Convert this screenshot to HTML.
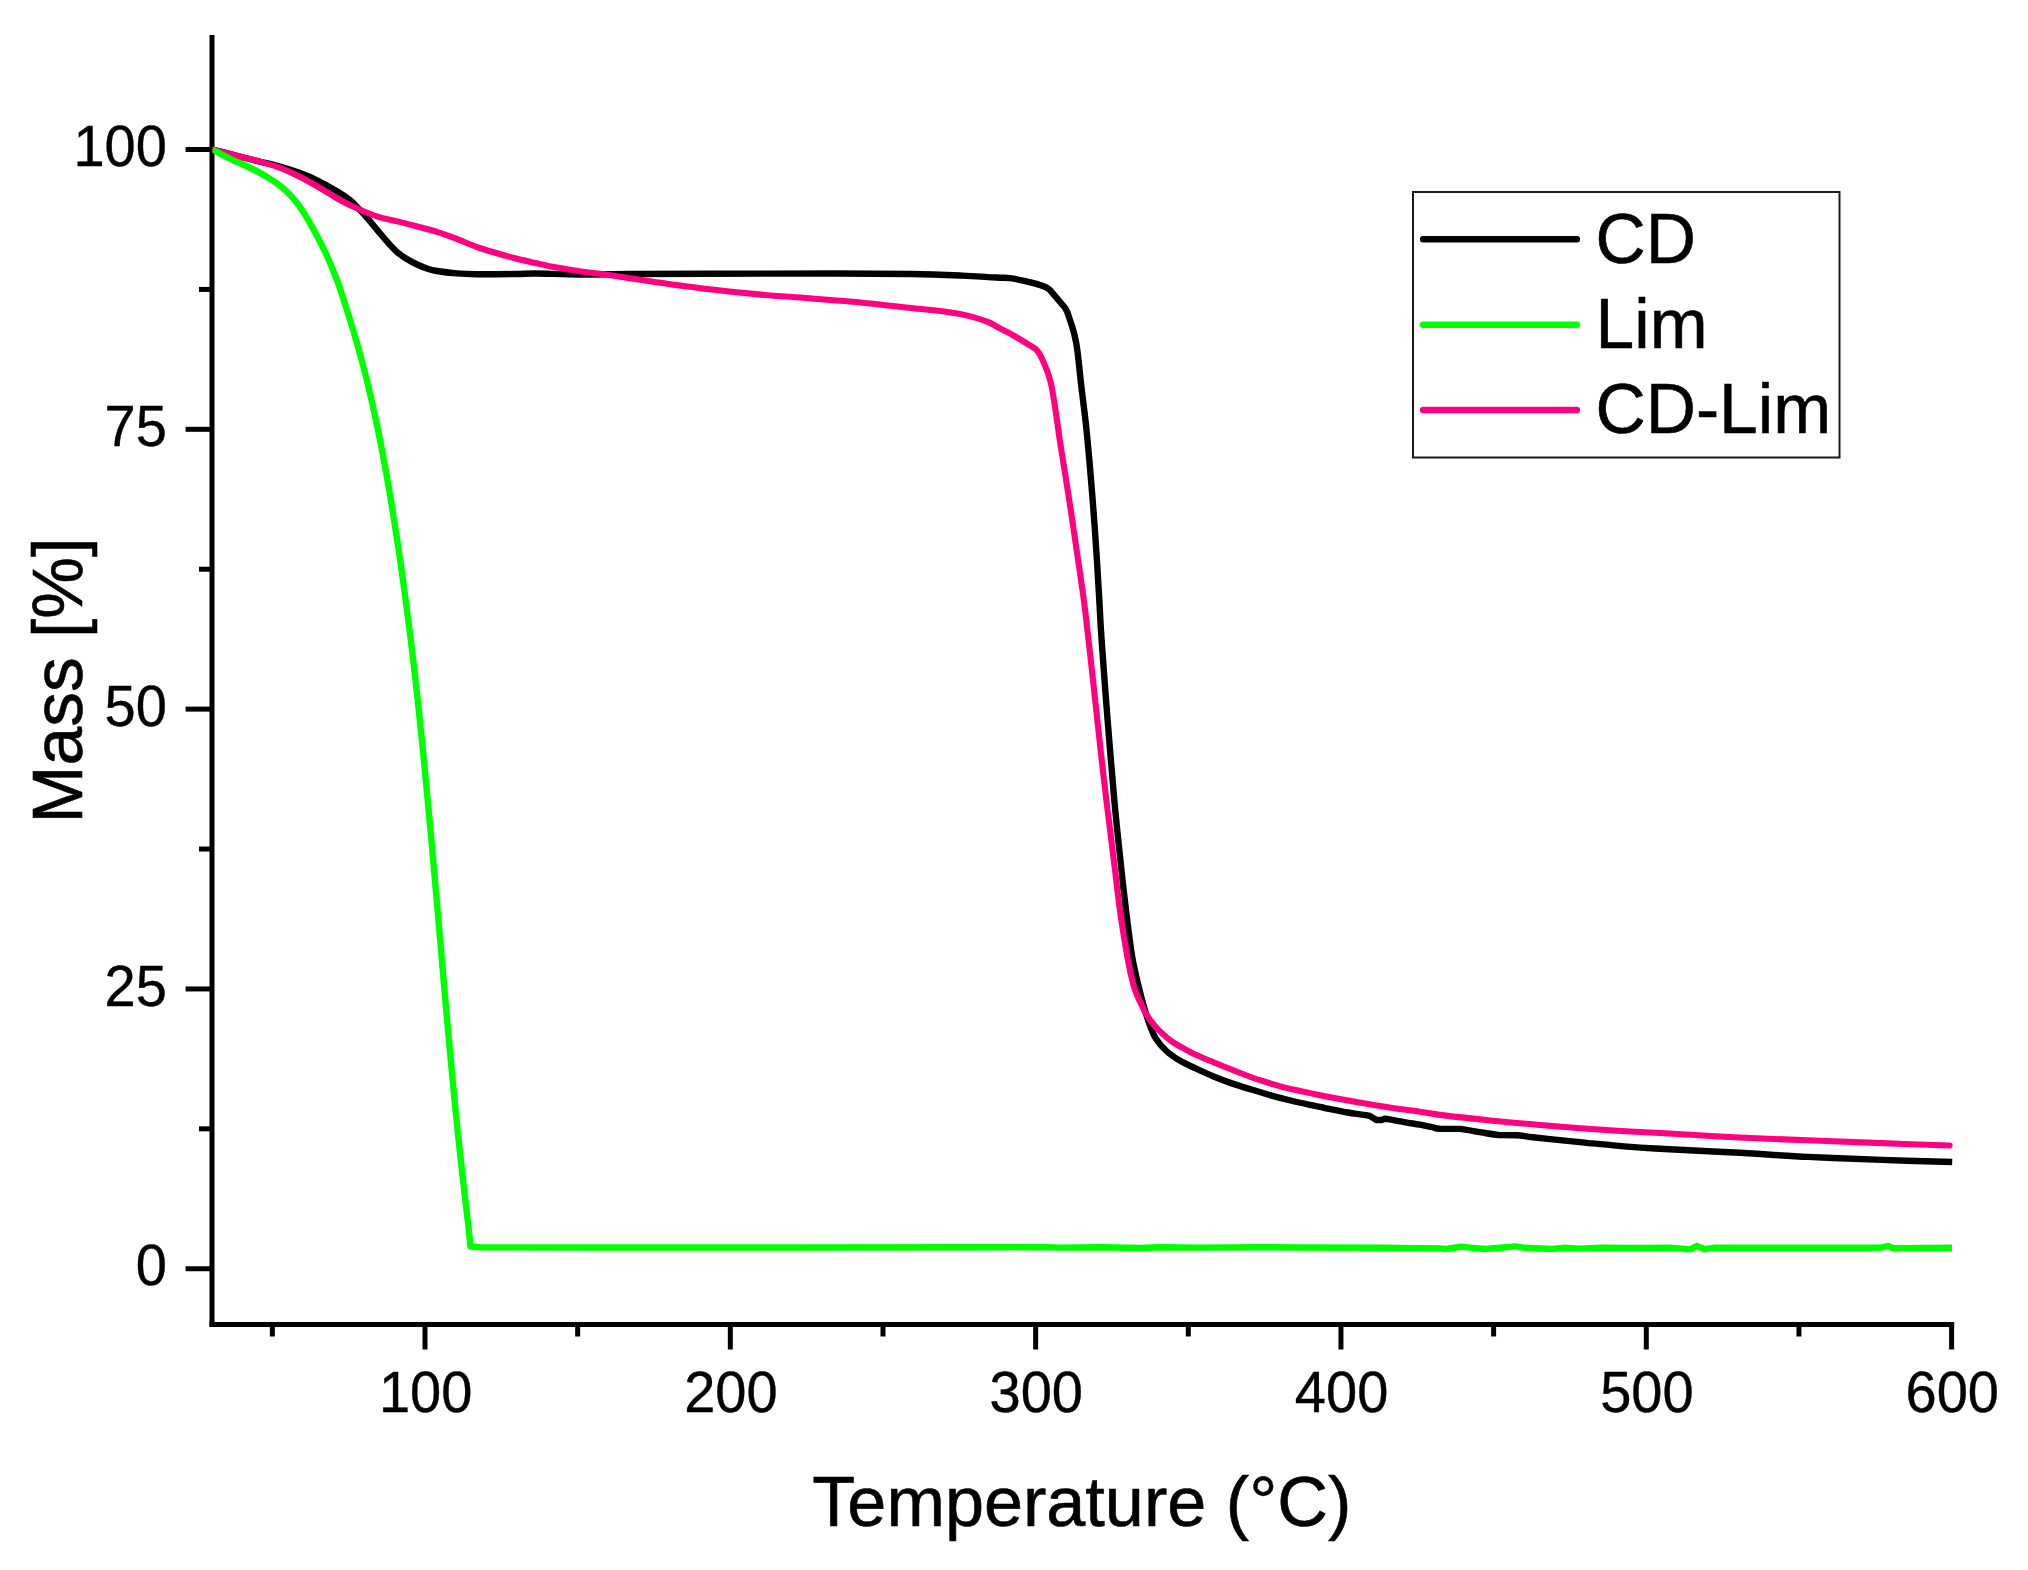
<!DOCTYPE html>
<html lang="en"><head><meta charset="utf-8"><title>TGA: Mass vs Temperature</title>
<style>
html,body{margin:0;padding:0;background:#fff;}
body{width:2028px;height:1570px;overflow:hidden;font-family:"Liberation Sans",sans-serif;}
svg{display:block;}
</style></head><body>
<svg width="2028" height="1570" viewBox="0 0 2028 1570">
<rect width="2028" height="1570" fill="#fff"/>
<g stroke="#000" stroke-width="5" fill="none" stroke-linecap="butt">
<path d="M212.0,35 V1327.1"/>
<path d="M209.5,1324.6 H1954.2"/>
<path d="M185.6,149.50 H212.0"/>
<path d="M185.6,429.31 H212.0"/>
<path d="M185.6,709.12 H212.0"/>
<path d="M185.6,988.94 H212.0"/>
<path d="M185.6,1268.75 H212.0"/>
<path d="M199,289.41 H212.0"/>
<path d="M199,569.22 H212.0"/>
<path d="M199,849.03 H212.0"/>
<path d="M199,1128.84 H212.0"/>
<path d="M425.00,1324.6 V1349.5"/>
<path d="M730.32,1324.6 V1349.5"/>
<path d="M1035.64,1324.6 V1349.5"/>
<path d="M1340.96,1324.6 V1349.5"/>
<path d="M1646.28,1324.6 V1349.5"/>
<path d="M1951.60,1324.6 V1349.5"/>
<path d="M272.34,1324.6 V1336.5"/>
<path d="M577.66,1324.6 V1336.5"/>
<path d="M882.98,1324.6 V1336.5"/>
<path d="M1188.30,1324.6 V1336.5"/>
<path d="M1493.62,1324.6 V1336.5"/>
<path d="M1798.94,1324.6 V1336.5"/>
</g>
<defs><clipPath id="pc"><rect x="212.4" y="30" width="1760" height="1300"/></clipPath></defs><g clip-path="url(#pc)">
<path d="M212.50,149.50 C217.00,150.67 231.72,154.50 239.50,156.50 C247.28,158.50 253.22,160.02 259.20,161.50 C265.18,162.98 268.82,163.55 275.40,165.40 C281.98,167.25 291.52,170.00 298.70,172.60 C305.88,175.20 311.92,177.75 318.50,181.00 C325.08,184.25 332.87,188.83 338.20,192.10 C343.53,195.37 347.22,197.97 350.50,200.60 C353.78,203.23 355.02,204.88 357.90,207.90 C360.78,210.92 364.50,214.92 367.80,218.70 C371.10,222.48 374.40,226.68 377.70,230.60 C381.00,234.52 384.32,238.58 387.60,242.20 C390.88,245.82 394.12,249.47 397.40,252.30 C400.68,255.13 404.00,257.17 407.30,259.20 C410.60,261.23 413.92,262.95 417.20,264.50 C420.48,266.05 423.72,267.42 427.00,268.50 C430.28,269.58 431.95,270.18 436.90,271.00 C441.85,271.82 450.12,272.87 456.70,273.40 C463.28,273.93 466.53,274.10 476.40,274.20 C486.27,274.30 506.03,274.12 515.90,274.00 C525.77,273.88 524.92,273.42 535.60,273.50 C546.28,273.58 564.10,274.42 580.00,274.50 C595.90,274.58 609.77,274.12 631.00,274.00 C652.23,273.88 673.43,273.88 707.40,273.80 C741.37,273.72 800.82,273.47 834.80,273.50 C868.78,273.53 890.07,273.65 911.30,274.00 C932.53,274.35 949.47,275.08 962.20,275.60 C974.93,276.12 981.40,276.75 987.70,277.10 C994.00,277.45 996.28,277.52 1000.00,277.70 C1003.72,277.88 1005.78,277.62 1010.00,278.20 C1014.22,278.78 1020.20,280.02 1025.30,281.20 C1030.40,282.38 1036.52,283.85 1040.60,285.30 C1044.68,286.75 1045.73,286.15 1049.80,289.90 L1065.00,307.80 C1068.42,312.98 1068.77,316.67 1070.30,321.00 C1071.83,325.33 1073.03,328.97 1074.20,333.80 C1075.37,338.63 1076.12,341.30 1077.30,350.00 C1078.48,358.70 1079.85,373.48 1081.30,386.00 C1082.75,398.52 1084.57,411.70 1086.00,425.10 C1087.43,438.50 1088.63,451.88 1089.90,466.40 C1091.17,480.92 1092.45,496.92 1093.60,512.20 C1094.75,527.48 1095.85,543.47 1096.80,558.10 C1097.75,572.73 1098.50,586.35 1099.30,600.00 C1100.10,613.65 1100.22,620.00 1101.60,640.00 C1102.98,660.00 1105.48,693.33 1107.60,720.00 C1109.72,746.67 1112.43,779.17 1114.30,800.00 C1116.17,820.83 1117.43,831.67 1118.80,845.00 C1120.17,858.33 1121.40,870.00 1122.50,880.00 C1123.60,890.00 1124.37,896.33 1125.40,905.00 C1126.43,913.67 1127.53,923.17 1128.70,932.00 C1129.87,940.83 1130.95,949.78 1132.40,958.00 C1133.85,966.22 1135.60,973.60 1137.40,981.30 C1139.20,989.00 1141.23,997.20 1143.20,1004.20 C1145.17,1011.20 1147.08,1017.57 1149.20,1023.30 C1151.32,1029.03 1153.03,1033.98 1155.90,1038.60 C1158.77,1043.22 1162.42,1047.33 1166.40,1051.00 C1170.38,1054.67 1175.02,1057.73 1179.80,1060.60 C1184.58,1063.47 1189.37,1065.50 1195.10,1068.20 C1200.83,1070.90 1207.83,1074.18 1214.20,1076.80 C1220.57,1079.42 1226.93,1081.73 1233.30,1083.90 C1239.67,1086.07 1246.03,1087.85 1252.40,1089.80 C1258.77,1091.75 1265.13,1093.82 1271.50,1095.60 C1277.87,1097.38 1284.22,1098.97 1290.60,1100.50 C1296.98,1102.03 1304.90,1103.75 1309.80,1104.80 C1314.70,1105.85 1316.82,1106.13 1320.00,1106.80 C1323.18,1107.47 1324.23,1107.85 1328.90,1108.80 C1333.57,1109.75 1342.82,1111.57 1348.00,1112.50 C1353.18,1113.43 1356.37,1113.83 1360.00,1114.40 C1363.63,1114.97 1367.08,1114.97 1369.80,1115.90 L1376.30,1120.00 L1381.70,1120.00 L1384.60,1118.80 C1386.77,1118.85 1390.97,1119.67 1394.70,1120.30 C1398.43,1120.93 1402.78,1121.87 1407.00,1122.60 C1411.22,1123.33 1415.82,1123.93 1420.00,1124.70 C1424.18,1125.47 1428.82,1126.53 1432.10,1127.20 C1435.38,1127.87 1435.15,1128.42 1439.70,1128.70 L1459.40,1128.90 C1466.28,1129.52 1474.42,1131.38 1481.00,1132.40 C1487.58,1133.42 1492.90,1134.53 1498.90,1135.00 L1517.00,1135.20 C1522.63,1135.58 1525.15,1136.43 1532.70,1137.30 C1540.25,1138.17 1554.42,1139.60 1562.30,1140.40 C1570.18,1141.20 1575.07,1141.60 1580.00,1142.10 C1584.93,1142.60 1584.98,1142.73 1591.90,1143.40 C1598.82,1144.07 1610.98,1145.25 1621.50,1146.10 C1632.02,1146.95 1636.25,1147.43 1655.00,1148.50 C1673.75,1149.57 1708.52,1151.10 1734.00,1152.50 C1759.48,1153.90 1783.25,1155.67 1807.90,1156.90 C1832.55,1158.13 1857.85,1159.05 1881.90,1159.90 C1905.95,1160.75 1940.48,1161.65 1952.20,1162.00" fill="none" stroke="#000" stroke-width="6.4" stroke-linejoin="round" stroke-linecap="butt"/>
<path d="M212.50,149.50 C217.00,150.67 231.72,154.50 239.50,156.50 C247.28,158.50 252.62,159.68 259.20,161.50 C265.78,163.32 272.42,164.93 279.00,167.40 C285.58,169.87 292.12,173.02 298.70,176.30 C305.28,179.58 311.92,183.32 318.50,187.10 C325.08,190.88 331.63,195.38 338.20,199.00 C344.77,202.62 351.32,205.85 357.90,208.80 C364.48,211.75 371.12,214.60 377.70,216.70 C384.28,218.80 390.82,219.77 397.40,221.40 C403.98,223.03 410.62,224.75 417.20,226.50 C423.78,228.25 430.32,229.83 436.90,231.90 C443.48,233.97 450.12,236.42 456.70,238.90 C463.28,241.38 469.82,244.45 476.40,246.80 C482.98,249.15 489.62,251.05 496.20,253.00 C502.78,254.95 509.33,256.83 515.90,258.50 C522.47,260.17 529.02,261.53 535.60,263.00 C542.18,264.47 548.33,265.97 555.40,267.30 C562.47,268.63 569.65,269.78 578.00,271.00 C586.35,272.22 592.42,272.73 605.50,274.60 C618.58,276.47 639.52,279.80 656.50,282.20 C673.48,284.60 690.42,286.97 707.40,289.00 C724.38,291.03 741.40,292.85 758.40,294.40 C775.40,295.95 792.42,296.95 809.40,298.30 C826.38,299.65 843.32,300.88 860.30,302.50 C877.28,304.12 896.43,306.38 911.30,308.00 C926.17,309.62 940.15,310.93 949.50,312.20 C958.85,313.47 961.03,313.98 967.40,315.60 C973.77,317.22 982.27,319.77 987.70,321.90 C993.13,324.03 995.65,326.12 1000.00,328.40 C1004.35,330.68 1007.93,332.23 1013.80,335.60 L1035.20,348.60 C1040.17,353.05 1041.05,356.82 1043.60,362.30 C1046.15,367.78 1048.60,374.08 1050.50,381.50 C1052.40,388.92 1053.48,397.23 1055.00,406.80 C1056.52,416.37 1057.87,427.45 1059.60,438.90 C1061.33,450.35 1063.48,463.28 1065.40,475.50 C1067.32,487.72 1069.20,499.58 1071.10,512.20 C1073.00,524.82 1074.90,538.20 1076.80,551.20 C1078.70,564.20 1080.97,579.12 1082.50,590.20 C1084.03,601.28 1084.32,603.33 1086.00,617.70 C1087.68,632.07 1090.12,653.87 1092.60,676.40 C1095.08,698.93 1098.62,732.30 1100.90,752.90 C1103.18,773.50 1104.78,787.27 1106.30,800.00 C1107.82,812.73 1108.35,815.97 1110.00,829.30 C1111.65,842.63 1114.67,867.42 1116.20,880.00 C1117.73,892.58 1118.10,896.52 1119.20,904.80 C1120.30,913.08 1121.45,921.10 1122.80,929.70 C1124.15,938.30 1125.93,948.80 1127.30,956.40 C1128.67,964.00 1129.68,969.60 1131.00,975.30 C1132.32,981.00 1133.60,986.02 1135.20,990.60 C1136.80,995.18 1138.82,998.98 1140.60,1002.80 C1142.38,1006.62 1143.87,1010.05 1145.90,1013.50 C1147.93,1016.95 1150.37,1020.43 1152.80,1023.50 C1155.23,1026.57 1157.43,1028.98 1160.50,1031.90 C1163.57,1034.82 1167.52,1038.33 1171.20,1041.00 C1174.88,1043.67 1178.78,1045.75 1182.60,1047.90 C1186.42,1050.05 1189.53,1051.75 1194.10,1053.90 C1198.67,1056.05 1205.05,1058.70 1210.00,1060.80 C1214.95,1062.90 1218.32,1064.30 1223.80,1066.50 C1229.28,1068.70 1236.87,1071.72 1242.90,1074.00 C1248.93,1076.28 1253.63,1078.10 1260.00,1080.20 C1266.37,1082.30 1274.40,1084.80 1281.10,1086.60 C1287.80,1088.40 1293.72,1089.57 1300.20,1091.00 C1306.68,1092.43 1313.63,1093.90 1320.00,1095.20 C1326.37,1096.50 1332.15,1097.63 1338.40,1098.80 C1344.65,1099.97 1351.13,1101.10 1357.50,1102.20 C1363.87,1103.30 1369.58,1104.27 1376.60,1105.40 C1383.62,1106.53 1392.37,1107.95 1399.60,1109.00 C1406.83,1110.05 1412.60,1110.63 1420.00,1111.70 C1427.40,1112.77 1432.62,1113.97 1444.00,1115.40 C1455.38,1116.83 1473.52,1118.82 1488.30,1120.30 C1503.08,1121.78 1517.90,1123.02 1532.70,1124.30 C1547.50,1125.58 1562.30,1126.88 1577.10,1128.00 C1591.90,1129.12 1606.85,1130.13 1621.50,1131.00 C1636.15,1131.87 1646.25,1132.17 1665.00,1133.20 C1683.75,1134.23 1710.18,1136.02 1734.00,1137.20 C1757.82,1138.38 1783.25,1139.32 1807.90,1140.30 C1832.55,1141.28 1858.28,1142.23 1881.90,1143.10 C1905.52,1143.97 1938.32,1145.10 1949.60,1145.50" fill="none" stroke="#ff0080" stroke-width="6.1000000000000005" stroke-linejoin="round" stroke-linecap="round"/>
<path d="M212.50,149.50 C213.25,149.88 215.28,150.88 217.00,151.80 C218.72,152.72 220.88,153.97 222.80,155.00 C224.72,156.03 226.53,157.03 228.50,158.00 C230.47,158.97 231.62,159.47 234.60,160.80 C237.58,162.13 242.45,164.15 246.40,166.00 C250.35,167.85 254.35,169.75 258.30,171.90 C262.25,174.05 266.17,176.35 270.10,178.90 C274.03,181.45 278.45,184.42 281.90,187.20 C285.35,189.98 288.03,192.63 290.80,195.60 C293.57,198.57 296.13,201.83 298.50,205.00 C300.87,208.17 302.08,209.77 305.00,214.60 C307.92,219.43 312.33,227.10 316.00,234.00 C319.67,240.90 323.38,248.00 327.00,256.00 C330.62,264.00 334.92,274.67 337.70,282.00 C340.48,289.33 341.63,293.67 343.70,300.00 C345.77,306.33 348.03,313.33 350.10,320.00 C352.17,326.67 354.18,333.33 356.10,340.00 C358.02,346.67 359.82,353.33 361.60,360.00 C363.38,366.67 365.15,373.33 366.80,380.00 C368.45,386.67 369.63,391.67 371.50,400.00 C373.37,408.33 375.93,420.00 378.00,430.00 C380.07,440.00 381.75,448.33 383.90,460.00 C386.05,471.67 388.68,486.67 390.90,500.00 C393.12,513.33 395.18,526.67 397.20,540.00 C399.22,553.33 400.93,565.00 403.00,580.00 C405.07,595.00 407.33,611.67 409.60,630.00 C411.87,648.33 414.38,670.00 416.60,690.00 C418.82,710.00 421.05,731.67 422.90,750.00 C424.75,768.33 426.13,783.33 427.70,800.00 C429.27,816.67 430.70,832.17 432.30,850.00 C433.90,867.83 435.63,887.83 437.30,907.00 C438.97,926.17 440.63,945.83 442.30,965.00 C443.97,984.17 445.60,1003.00 447.30,1022.00 C449.00,1041.00 450.67,1059.83 452.50,1079.00 C454.33,1098.17 456.28,1117.83 458.30,1137.00 C460.32,1156.17 462.98,1179.73 464.60,1194.00 C466.22,1208.27 467.02,1213.85 468.00,1222.60 C468.98,1231.35 470.08,1242.52 470.50,1246.50 L480.00,1247.30 L600.00,1247.50 L800.00,1247.50 L1000.00,1247.30 L1040.00,1247.00 L1060.00,1247.60 L1100.00,1247.30 L1140.00,1248.00 L1160.00,1247.20 L1200.00,1247.60 L1260.00,1247.20 L1300.00,1247.50 L1380.00,1247.80 L1440.00,1248.40 L1446.00,1249.00 L1461.00,1246.60 L1470.00,1247.60 L1485.00,1249.00 L1500.00,1247.80 L1515.00,1246.40 L1525.00,1247.80 L1552.00,1249.00 L1565.00,1247.80 L1580.00,1248.60 L1600.00,1247.60 L1640.00,1248.00 L1670.00,1247.60 L1690.00,1249.40 L1697.00,1246.00 L1705.00,1249.20 L1715.00,1247.60 L1800.00,1247.80 L1880.00,1247.80 L1888.00,1246.00 L1893.00,1248.20 L1952.00,1247.80" fill="none" stroke="#00ff00" stroke-width="6.4" stroke-linejoin="round" stroke-linecap="butt"/>
</g>
<g font-family="Liberation Sans, sans-serif" font-size="56" fill="#000" stroke="#000" stroke-width="0.4">
<text transform="translate(166.9,166.10) scale(1,1.012)" text-anchor="end">100</text>
<text transform="translate(166.9,445.91) scale(1,1.012)" text-anchor="end">75</text>
<text transform="translate(166.9,725.73) scale(1,1.012)" text-anchor="end">50</text>
<text transform="translate(166.9,1005.54) scale(1,1.012)" text-anchor="end">25</text>
<text transform="translate(166.9,1285.35) scale(1,1.012)" text-anchor="end">0</text>
<text transform="translate(425.60,1412) scale(1,1.012)" text-anchor="middle">100</text>
<text transform="translate(730.92,1412) scale(1,1.012)" text-anchor="middle">200</text>
<text transform="translate(1036.24,1412) scale(1,1.012)" text-anchor="middle">300</text>
<text transform="translate(1341.56,1412) scale(1,1.012)" text-anchor="middle">400</text>
<text transform="translate(1646.88,1412) scale(1,1.012)" text-anchor="middle">500</text>
<text transform="translate(1952.20,1412) scale(1,1.012)" text-anchor="middle">600</text>
</g>
<g font-family="Liberation Sans, sans-serif" fill="#000" stroke="#000" stroke-width="0.6">
<text x="1081.8" y="1525.5" font-size="70.2" text-anchor="middle">Temperature (°C)</text>
<text transform="translate(82,680.5) rotate(-90)" font-size="69.5" text-anchor="middle">Mass [%]</text>
</g>
<rect x="1413" y="192" width="426.5" height="265.5" fill="#fff" stroke="#1a1a1a" stroke-width="2"/>
<path d="M1423.2,239.3 H1576.8" stroke="#000" stroke-width="6.5" stroke-linecap="round" fill="none"/>
<path d="M1423.2,324.8 H1576.8" stroke="#00ff00" stroke-width="6.5" stroke-linecap="round" fill="none"/>
<path d="M1423.2,410 H1576.8" stroke="#ff0080" stroke-width="6.5" stroke-linecap="round" fill="none"/>
<g font-family="Liberation Sans, sans-serif" font-size="69.5" fill="#000" stroke="#000" stroke-width="0.55">
<text x="1595.6" y="262.8">CD</text>
<text x="1595.6" y="348.2">Lim</text>
<text x="1595.6" y="433.4">CD-Lim</text>
</g>
</svg>
</body></html>
